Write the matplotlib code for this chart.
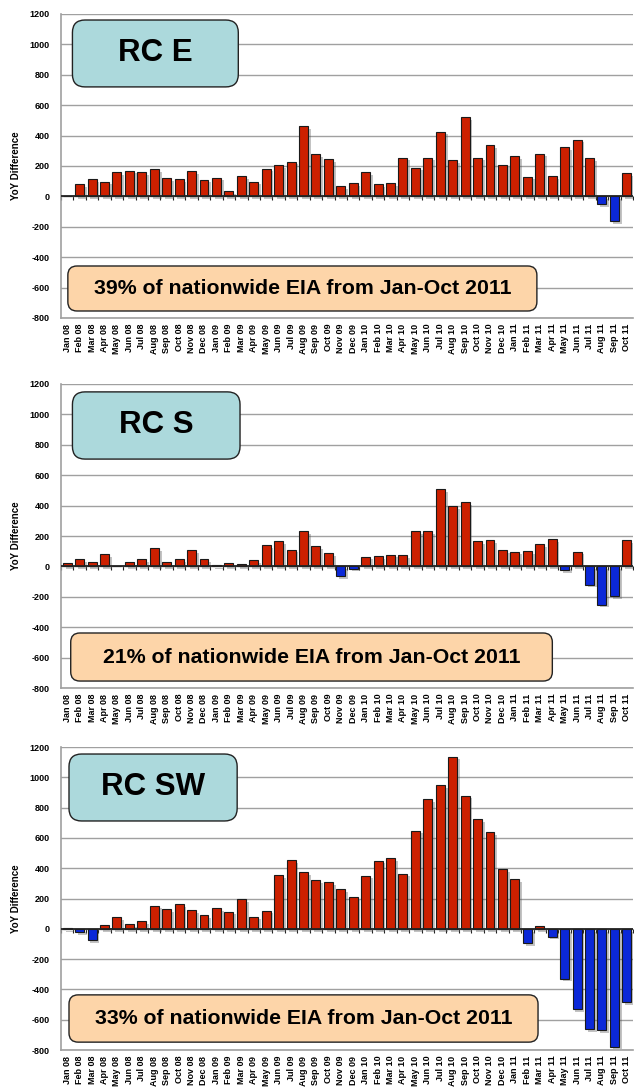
import numpy as np
import matplotlib
matplotlib.use('Agg')
import matplotlib.pyplot as plt
import matplotlib.patheffects as pe
from matplotlib.patches import FancyBboxPatch

plt.rcParams['font.family'] = ['Liberation Sans', 'DejaVu Sans']
plt.rcParams['font.weight'] = 'bold'
plt.rcParams['axes.unicode_minus'] = False

months = ['Jan 08', 'Feb 08', 'Mar 08', 'Apr 08', 'May 08', 'Jun 08', 'Jul 08', 'Aug 08',
          'Sep 08', 'Oct 08', 'Nov 08', 'Dec 08',
          'Jan 09', 'Feb 09', 'Mar 09', 'Apr 09', 'May 09', 'Jun 09', 'Jul 09', 'Aug 09',
          'Sep 09', 'Oct 09', 'Nov 09', 'Dec 09',
          'Jan 10', 'Feb 10', 'Mar 10', 'Apr 10', 'May 10', 'Jun 10', 'Jul 10', 'Aug 10',
          'Sep 10', 'Oct 10', 'Nov 10', 'Dec 10',
          'Jan 11', 'Feb 11', 'Mar 11', 'Apr 11', 'May 11', 'Jun 11', 'Jul 11', 'Aug 11',
          'Sep 11', 'Oct 11']

rc_e = [0, 79, 114, 97, 160, 169, 160, 178, 119, 114, 165, 110,
        123, 37, 134, 97, 182, 207, 229, 464, 279, 246, 70, 88,
        160, 79, 88, 255, 189, 255, 426, 240, 523, 255, 336, 209,
        266, 130, 281, 134, 325, 374, 251, -51, -165, 154]

rc_s = [24, 48, 29, 79, 0, 29, 48, 119, 29, 48, 105, 48,
        9, 20, 15, 40, 141, 167, 110, 231, 132, 86, -64, -15,
        64, 68, 77, 73, 231, 231, 508, 398, 422, 165, 174, 108,
        97, 101, 147, 182, -22, 97, -119, -251, -193, 174]

rc_sw = [5, -24, -75, 24, 79, 33, 53, 154, 128, 161, 123, 90,
         136, 114, 196, 81, 121, 354, 453, 372, 321, 306, 260, 211,
         352, 451, 466, 365, 649, 858, 950, 1137, 880, 722, 636, 394,
         328, -92, 20, -51, -328, -532, -664, -669, -777, -486]

region_names = ['RC E', 'RC S', 'RC SW']
share_notes = ['39% of nationwide EIA from Jan-Oct 2011',
               '21% of nationwide EIA from Jan-Oct 2011',
               '33% of nationwide EIA from Jan-Oct 2011']

RED = '#cc2000'
BLUE = '#0b28d8'
GRID = '#a0a0a0'

fig = plt.figure(figsize=(6.34, 10.89), dpi=100)

# axes boxes in figure fraction: left, bottom, width, height, then label boxes in axes fraction
panels = [
    (0.0962, 0.7080, 0.9022, 0.2792, (0.020, 0.760, 0.290, 0.220), (0.012, 0.023, 0.820, 0.148)),
    (0.0962, 0.3682, 0.9022, 0.2792, (0.020, 0.753, 0.293, 0.221), (0.017, 0.023, 0.842, 0.158)),
    (0.0962, 0.0358, 0.9022, 0.2782, (0.014, 0.756, 0.294, 0.221), (0.014, 0.026, 0.820, 0.156)),
]

x = np.arange(len(months))

for vals, name, note, (l, b, w, h, rc_box, note_box) in zip(
        [rc_e, rc_s, rc_sw], region_names, share_notes, panels):
    ax = fig.add_axes([l, b, w, h])
    vals = np.array(vals)
    colors = [RED if v >= 0 else BLUE for v in vals]
    ax.bar(x, vals, width=0.72, color=colors, edgecolor='#1a1a1a', linewidth=0.8, zorder=3,
           path_effects=[pe.SimplePatchShadow(offset=(2, -2), alpha=0.35, shadow_rgbFace='#555555'),
                         pe.Normal()])

    ax.set_xlim(-0.5, len(months) - 0.5)
    ax.set_ylim(-800, 1200)
    ax.set_yticks(np.arange(-800, 1201, 200))
    ax.yaxis.grid(True, color=GRID, linewidth=1.0, zorder=0)
    ax.set_axisbelow(True)
    ax.tick_params(axis='y', length=0, pad=8, labelsize=6.5)
    for t in ax.get_yticklabels():
        t.set_fontweight('bold')

    ax.set_xticks(x)
    ax.set_xticklabels(months, rotation=90, fontsize=6.5, fontweight='bold')
    ax.tick_params(axis='x', length=0, pad=4)

    for s in ['top', 'right']:
        ax.spines[s].set_visible(False)
    ax.spines['left'].set_color(GRID)
    ax.spines['left'].set_linewidth(1.2)
    ax.spines['bottom'].set_color(GRID)
    ax.spines['bottom'].set_linewidth(1.2)

    # zero line with category ticks
    ax.axhline(0, color='#222222', linewidth=1.3, zorder=4)
    sec = ax.secondary_xaxis(0.4)
    sec.set_xticks(np.arange(-0.5, len(months), 1.0))
    sec.tick_params(axis='x', direction='out', length=3, width=0.8, color='#222222', labelbottom=False)
    sec.spines['bottom'].set_visible(False)

    ax.set_ylabel('YoY Difference', fontsize=7, fontweight='bold', labelpad=6)

    aspect = (w * 634) / (h * 1089)
    bx, by, bw, bh = rc_box
    box = FancyBboxPatch((bx, by), bw, bh, transform=ax.transAxes,
                         boxstyle='round,pad=0,rounding_size=0.022', mutation_aspect=aspect,
                         facecolor='#acd9dc', edgecolor='#222222', linewidth=1.0, zorder=6)
    ax.add_patch(box)
    ax.text(bx + bw / 2, by + bh / 2, name, transform=ax.transAxes, ha='center', va='center',
            fontsize=22.5, fontweight='bold', zorder=7)

    nx, ny, nw, nh = note_box
    box2 = FancyBboxPatch((nx, ny), nw, nh, transform=ax.transAxes,
                          boxstyle='round,pad=0,rounding_size=0.016', mutation_aspect=aspect,
                          facecolor='#fdd5a9', edgecolor='#222222', linewidth=1.0, zorder=6)
    ax.add_patch(box2)
    ax.text(nx + nw / 2, ny + nh / 2, note, transform=ax.transAxes, ha='center', va='center',
            fontsize=15.3, fontweight='bold', zorder=7)

fig.savefig('out.png', dpi=100)
